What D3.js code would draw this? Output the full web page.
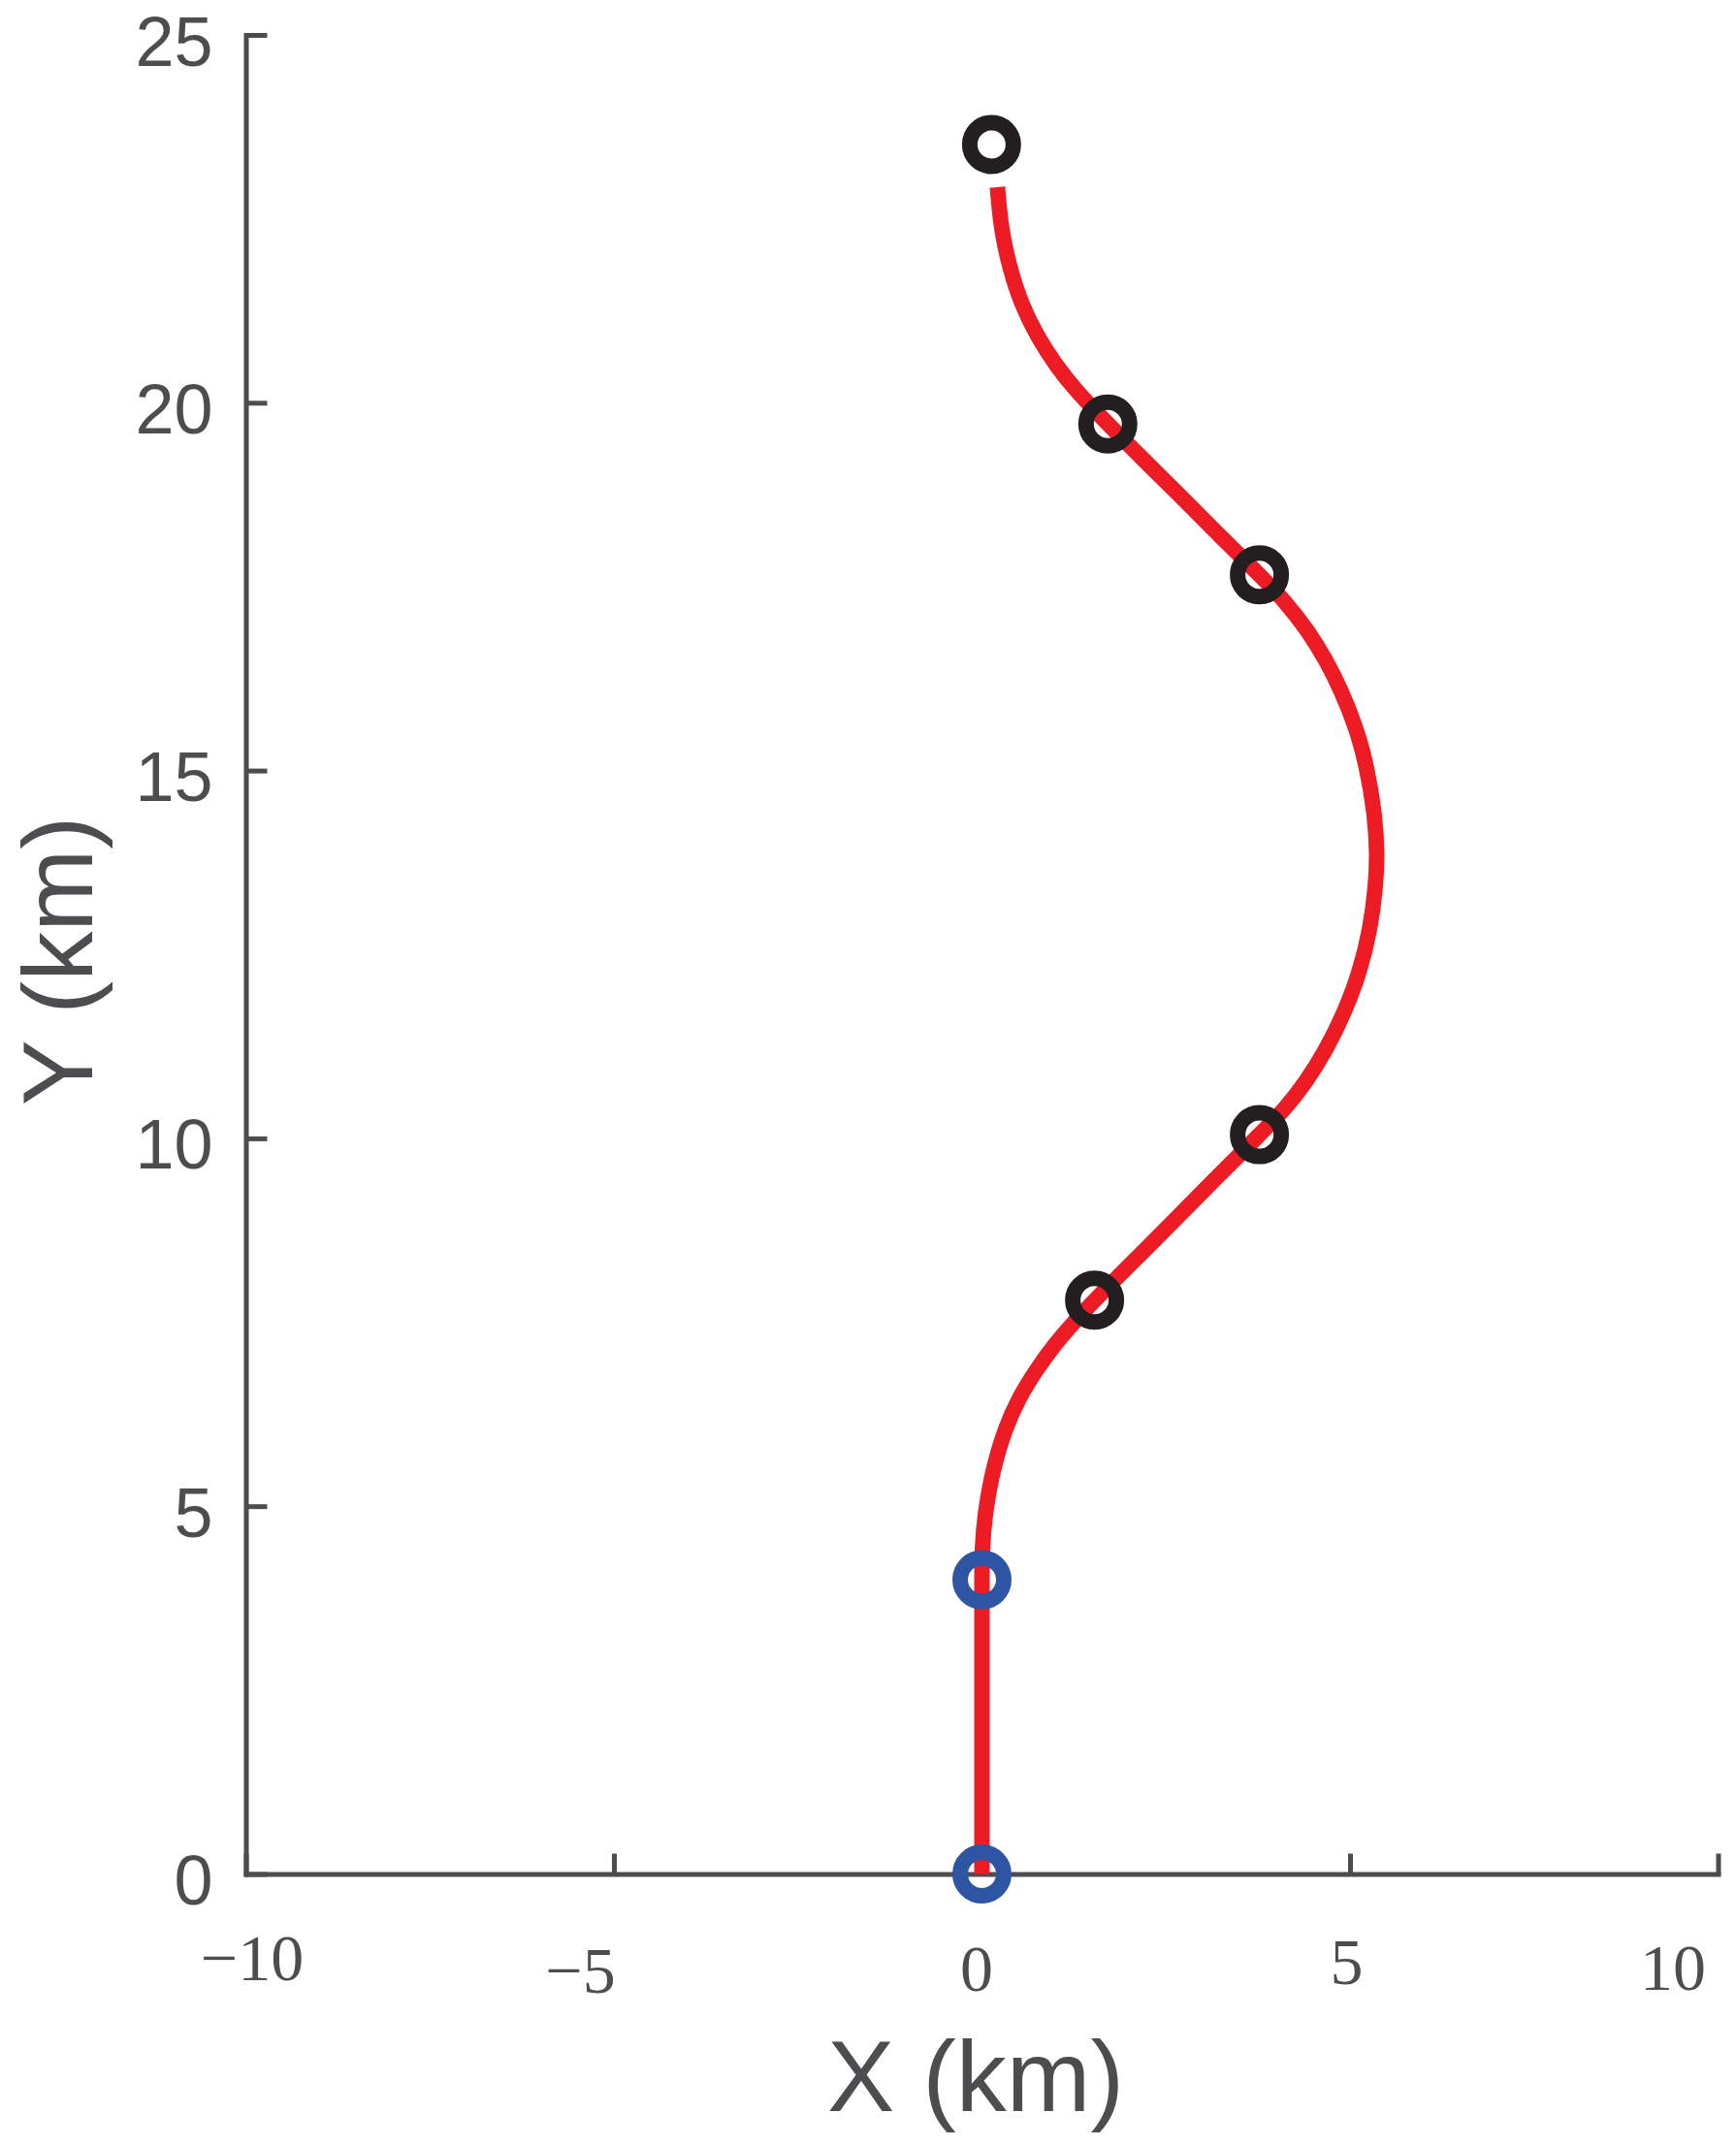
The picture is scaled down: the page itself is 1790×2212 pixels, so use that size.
<!DOCTYPE html>
<html>
<head>
<meta charset="utf-8">
<script src="https://cdn.jsdelivr.net/npm/d3@7"></script>
<style>
  html, body { margin: 0; padding: 0; background: #fff; }
  svg { display: block; }
</style>
</head>
<body>
<div id="chart"></div>
<script>
// ---- data ----
const pathX = [0, 0, 0, 0, 0, 0.04, 0.14, 0.31, 0.51, 0.73, 0.98, 1.25, 1.53, 2.09, 2.65, 3.21, 3.77, 4.12, 4.39, 4.67, 4.93, 5.13, 5.28, 5.35, 5.37, 5.34, 5.22, 5.08, 4.89, 4.67, 4.43, 4.12, 3.77, 3.25, 2.74, 2.22, 1.71, 1.27, 1.01, 0.75, 0.53, 0.38, 0.26, 0.21];
const pathY = [0, 1.5, 3.0, 4.0, 4.4, 4.9, 5.47, 6.05, 6.49, 6.84, 7.19, 7.50, 7.80, 8.36, 8.92, 9.49, 10.05, 10.40, 10.75, 11.19, 11.72, 12.25, 12.86, 13.44, 13.85, 14.40, 15.10, 15.59, 16.07, 16.51, 16.90, 17.30, 17.66, 18.17, 18.69, 19.20, 19.71, 20.17, 20.50, 20.90, 21.35, 21.82, 22.35, 22.93];
const startX = [0, 0];
const startY = [0, 4.0];
const wayX = [1.53, 3.77, 3.77, 1.71, 0.13];
const wayY = [7.80, 10.05, 17.66, 19.71, 23.51];
const xTicks = [-10, -5, 0, 5, 10];
const xTickLabels = ["\u221210", "\u22125", "0", "5", "10"];
const yTicks = [0, 5, 10, 15, 20, 25];
const yTickLabels = ["0", "5", "10", "15", "20", "25"];
const xTitle = "X (km)";
const yTitle = "Y (km)";

// ---- layout ----
const W = 1790, H = 2212;
const axisColor = "#4D4D4F";
// small label nudges to mimic the original rendering (dx, dy in px)
const xLabelNudge = [[6, -10], [-35, 3], [-6, 1], [-4, -6], [-47, 0]];

const svg = d3.select("#chart").append("svg")
  .attr("width", W).attr("height", H);

const x = d3.scaleLinear().domain([-10, 10]).range([253.5, 1771.5]);
const y = d3.scaleLinear().domain([0, 25]).range([1932.5, 36]);

// axes
const gx = svg.append("g")
  .attr("transform", `translate(0,${y(0)})`)
  .call(d3.axisBottom(x).tickValues(xTicks)
    .tickFormat((d, i) => xTickLabels[i])
    .tickSizeInner(-21).tickSizeOuter(0).tickPadding(0));
const gy = svg.append("g")
  .attr("transform", `translate(${x(-10)},0)`)
  .call(d3.axisLeft(y).tickValues(yTicks)
    .tickFormat((d, i) => yTickLabels[i])
    .tickSizeInner(-22).tickSizeOuter(0).tickPadding(34));

[gx, gy].forEach(g => {
  g.attr("color", axisColor);
  g.select(".domain").attr("stroke-width", 5).attr("stroke-linecap", "square");
  g.selectAll(".tick line").attr("stroke-width", 5);
});

gx.selectAll(".tick text")
  .attr("font-family", "'Liberation Serif', 'Times New Roman', serif")
  .attr("font-size", 68)
  .attr("fill", axisColor)
  .attr("dy", null)
  .attr("y", (d, i) => 119 + xLabelNudge[i][1])
  .attr("x", (d, i) => xLabelNudge[i][0]);

gy.selectAll(".tick text")
  .attr("font-family", "'Liberation Sans', Arial, sans-serif")
  .attr("font-size", 72)
  .attr("fill", axisColor)
  .attr("dy", null)
  .attr("y", 31);

// axis titles
svg.append("text")
  .attr("x", 1006).attr("y", 2177)
  .attr("text-anchor", "middle")
  .attr("font-family", "'Liberation Sans', Arial, sans-serif")
  .attr("font-size", 104)
  .attr("fill", axisColor)
  .text(xTitle);

svg.append("text")
  .attr("transform", `translate(95,991) rotate(-90)`)
  .attr("text-anchor", "middle")
  .attr("font-family", "'Liberation Sans', Arial, sans-serif")
  .attr("font-size", 102)
  .attr("fill", axisColor)
  .text(yTitle);

// trajectory
const pts = pathX.map((v, i) => [v, pathY[i]]);
const line = d3.line()
  .x(d => x(d[0])).y(d => y(d[1]))
  .curve(d3.curveBasis);
svg.append("path")
  .datum(pts)
  .attr("d", line)
  .attr("fill", "none")
  .attr("stroke", "#ED1C24")
  .attr("stroke-width", 16)
  .attr("stroke-linecap", "butt")
  .attr("stroke-linejoin", "round");

// markers
svg.append("g").selectAll("circle")
  .data(startX.map((v, i) => [v, startY[i]]))
  .join("circle")
  .attr("cx", d => x(d[0])).attr("cy", d => y(d[1]))
  .attr("r", 22.5)
  .attr("fill", "none")
  .attr("stroke", "#2E54A4")
  .attr("stroke-width", 16);

svg.append("g").selectAll("circle")
  .data(wayX.map((v, i) => [v, wayY[i]]))
  .join("circle")
  .attr("cx", d => x(d[0])).attr("cy", d => y(d[1]))
  .attr("r", 22.5)
  .attr("fill", "none")
  .attr("stroke", "#231F20")
  .attr("stroke-width", 16);
</script>
</body>
</html>
